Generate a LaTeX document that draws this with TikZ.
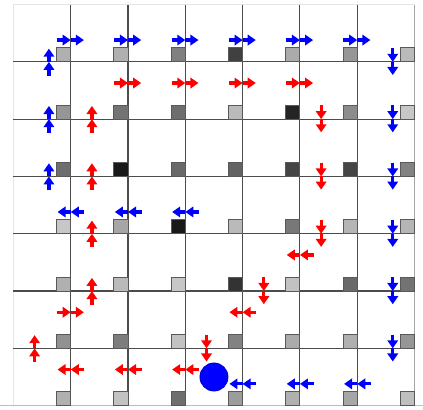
\documentclass[tikz,border=0pt]{standalone}
\usetikzlibrary{arrows.meta,calc}
\definecolor{edgeblue}{RGB}{150,200,240}

\begin{document}
\begin{tikzpicture}[x=1cm,y=1cm,
  gridl/.style={black!70,line width=0.55pt},
  sq/.style={draw=black!65,line width=0.5pt},
  barr/.style={blue,line width=1.6pt,-{Triangle[length=4pt,width=5.2pt]}},
  rarr/.style={red,line width=1.6pt,-{Triangle[length=4pt,width=5.2pt]}}]
  \useasboundingbox (-0.234,-0.059) rectangle (7.148,7.079);
  % frame
  \draw[black!10] (0,0) -- (0,7) -- (7,7);
  \draw[black!35] (7,7) -- (7,0);
  \draw[edgeblue,line width=0.7pt] (-0.234,0) -- (7.148,0);
  % grid
  \foreach \k in {1,...,6} {
    \draw[gridl] (\k,0) -- (\k,7);
    \draw[gridl] (0,\k) -- (7,\k);
  }
  % state squares
  \foreach \row/\vals in {6/{31,31,50,75,33,41,27},
                          5/{41,55,57,27,86,45,22},
                          4/{57,90,59,61,73,73,49},
                          3/{22,35,90,27,53,29,29},
                          2/{31,27,22,80,24,59,55},
                          1/{43,51,24,49,33,31,41},
                          0/{31,24,57,39,31,35,25}}
    \foreach \v [count=\i from 0] in \vals
      \filldraw[sq,fill=black!\v] (\i+0.755,\row) rectangle ++(0.245,0.245);
  % blue policy
  \foreach \x/\y/\dx/\dy in {1/6.38/1/0,2/6.38/1/0,3/6.38/1/0,4/6.38/1/0,5/6.38/1/0,6/6.38/1/0,
      0.62/6/0/1,0.62/5/0/1,0.62/4/0/1,
      6.62/6/0/-1,6.62/5/0/-1,6.62/4/0/-1,6.62/3/0/-1,6.62/2/0/-1,6.62/1/0/-1,
      1/3.38/-1/0,2/3.38/-1/0,3/3.38/-1/0,4/0.38/-1/0,5/0.38/-1/0,6/0.38/-1/0} {
    \coordinate (c) at (\x,\y);
    \draw[barr] ($(c)+({-0.24*(\dx)},{-0.24*(\dy)})$) -- (c);
    \draw[barr] (c) -- ++({0.23*(\dx)},{0.23*(\dy)});
  }
  % red policy
  \foreach \x/\y/\dx/\dy in {2/5.63/1/0,3/5.63/1/0,4/5.63/1/0,5/5.63/1/0,1/1.63/1/0,
      1.37/5/0/1,1.37/4/0/1,1.37/3/0/1,1.37/2/0/1,0.37/1/0/1,
      5.37/5/0/-1,5.37/4/0/-1,5.37/3/0/-1,4.37/2/0/-1,3.37/1/0/-1,
      5/2.63/-1/0,4/1.63/-1/0,1/0.63/-1/0,2/0.63/-1/0,3/0.63/-1/0} {
    \coordinate (c) at (\x,\y);
    \draw[rarr] ($(c)+({-0.24*(\dx)},{-0.24*(\dy)})$) -- (c);
    \draw[rarr] (c) -- ++({0.23*(\dx)},{0.23*(\dy)});
  }
  % agent
  \filldraw[blue,draw=blue!80!black] (3.5,0.5) circle (0.245);
\end{tikzpicture}
\end{document}
